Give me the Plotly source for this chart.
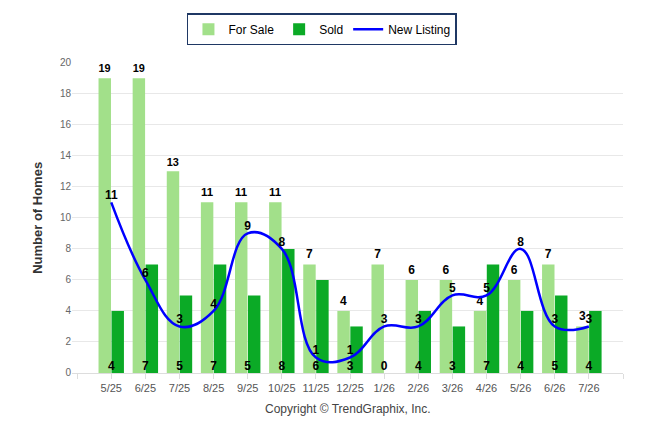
#!/usr/bin/env python3
"""
Monthly inventory chart: For Sale / Sold bars with a smoothed New Listing line
"""

import plotly.graph_objects as go

# ───────────── data ─────────────
MONTHS       = ["5/25", "6/25", "7/25", "8/25", "9/25", "10/25", "11/25", "12/25",
                "1/26", "2/26", "3/26", "4/26", "5/26", "6/26", "7/26"]
FOR_SALE     = [19, 19, 13, 11, 11, 11, 7, 4, 7, 6, 6, 4, 6, 7, 3]
SOLD         = [4, 7, 5, 7, 5, 8, 6, 3, 0, 4, 3, 7, 4, 5, 4]
NEW_LISTING  = [11, 6, 3, 4, 9, 8, 1, 1, 3, 3, 5, 5, 8, 3, 3]
Y_TICKS      = list(range(0, 21, 2))

C_SALE = "#a2e08a"
C_SOLD = "#0baa26"
C_NEW  = "#0000ff"
FONT   = "Liberation Sans"

xs = list(range(len(MONTHS)))
# empty ticks at both ends, as in the original axis
x_tickvals = [-1] + xs + [len(MONTHS)]
x_ticktext = [""] + MONTHS + [""]

fig = go.Figure()

# bars
fig.add_trace(go.Bar(
    x=xs, y=FOR_SALE, name="For Sale",
    marker=dict(color=C_SALE, line=dict(width=0)),
    text=FOR_SALE, textposition="outside", cliponaxis=False,
    textfont=dict(family=FONT, size=12, color="#000", weight="bold"),
))
fig.add_trace(go.Bar(
    x=xs, y=SOLD, name="Sold",
    marker=dict(color=C_SOLD, line=dict(width=0)),
))

# new listing line
fig.add_trace(go.Scatter(
    x=xs, y=NEW_LISTING, name="New Listing",
    mode="lines", line=dict(color=C_NEW, width=2.5, shape="spline", smoothing=1.15),
    hoverinfo="skip",
))

# value labels
fig.add_trace(go.Scatter(
    x=xs, y=NEW_LISTING, mode="text", text=NEW_LISTING,
    textposition="top center", showlegend=False, cliponaxis=False,
    textfont=dict(family=FONT, size=12, color="#000", weight="bold"),
    hoverinfo="skip",
))
fig.add_trace(go.Scatter(
    x=xs, y=[0] * len(MONTHS), mode="text", text=SOLD,
    textposition="top center", showlegend=False, cliponaxis=False,
    textfont=dict(family=FONT, size=12, color="#000", weight="bold"),
    hoverinfo="skip",
))

fig.update_layout(
    width=646, height=434,
    margin=dict(l=64, r=31, t=53, b=69),
    paper_bgcolor="white", plot_bgcolor="white",
    font=dict(family=FONT, color="#555"),
    barmode="group", bargap=0.24, bargroupgap=0.04,
    legend=dict(
        orientation="h", x=0.486, xanchor="center", xref="container",
        y=0.988, yanchor="top", yref="container",
        bordercolor="#1f3864", borderwidth=1.5, bgcolor="white",
        font=dict(family=FONT, size=12, color="#000"),
        traceorder="normal", itemwidth=30,
    ),
    xaxis=dict(
        range=[-1.15, 15.0], tickvals=x_tickvals, ticktext=x_ticktext,
        showgrid=False, zeroline=False, showline=True, linecolor="#dddddd", linewidth=1,
        ticks="outside", ticklen=5, tickcolor="#dddddd",
        tickfont=dict(family=FONT, size=11, color="#555"),
    ),
    yaxis=dict(
        range=[0, 20], tickvals=Y_TICKS, showgrid=True, gridcolor="#e8e8e8",
        zeroline=False, showline=False,
        tickfont=dict(family=FONT, size=10, color="#666"),
        title=dict(text="<b>Number of Homes</b>", standoff=14,
                   font=dict(family=FONT, size=13, color="#333")),
    ),
    annotations=[dict(
        text="Copyright © TrendGraphix, Inc.", xref="paper", yref="paper",
        x=0.5, y=-0.115, xanchor="center", yanchor="middle", showarrow=False,
        font=dict(family=FONT, size=12, color="#444"),
    )],
)

fig.write_html("out.html")
